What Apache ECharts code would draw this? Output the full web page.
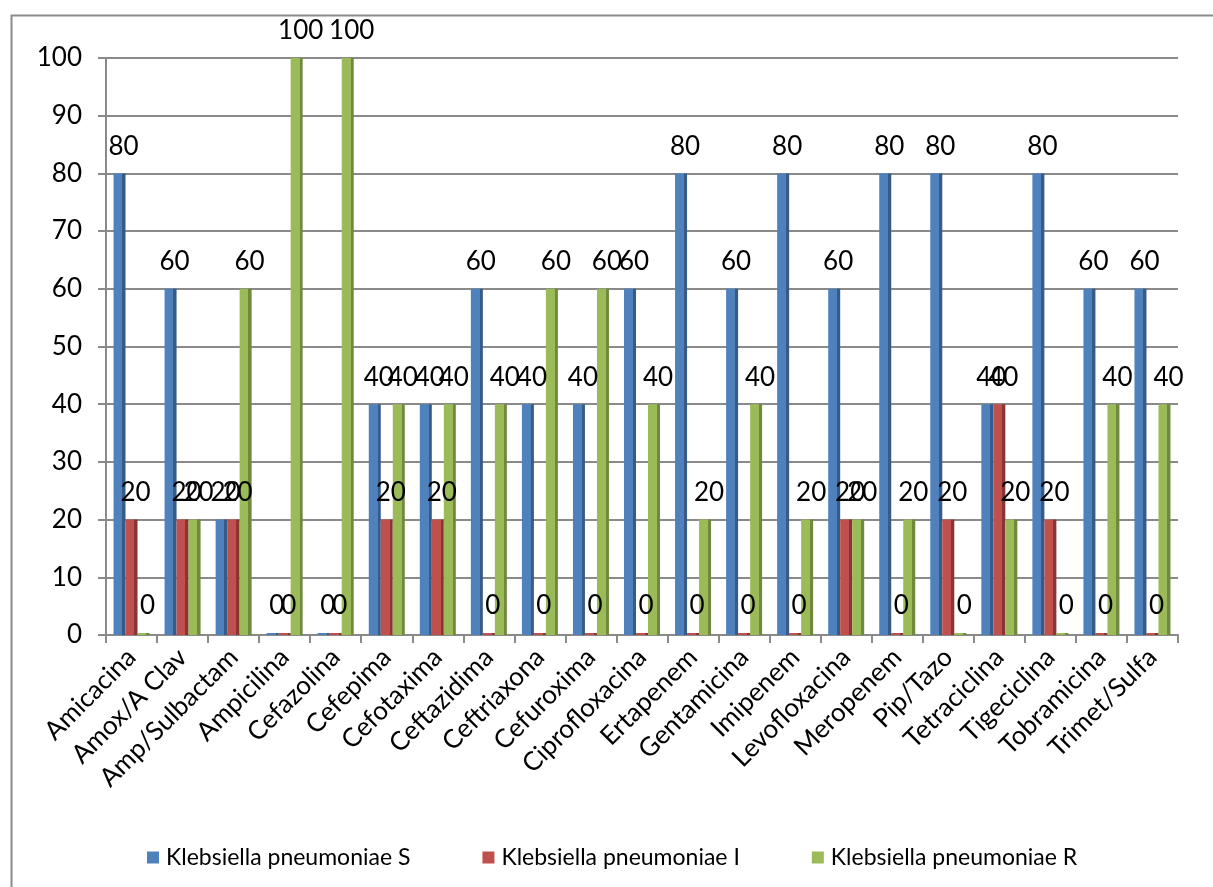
<!DOCTYPE html>
<html>
<head>
<meta charset="utf-8">
<title>Klebsiella pneumoniae</title>
<script src="https://cdn.jsdelivr.net/npm/echarts@6/dist/echarts.min.js"></script>
<style>
  html, body { margin: 0; padding: 0; background: #ffffff; }
  #chart { width: 1213px; height: 887px; }
</style>
</head>
<body>
<div id="chart"></div>
<script>
// Antibiotics tested
const categories = [
  'Amicacina', 'Amox/A Clav', 'Amp/Sulbactam', 'Ampicilina', 'Cefazolina',
  'Cefepima', 'Cefotaxima', 'Ceftazidima', 'Ceftriaxona', 'Cefuroxima',
  'Ciprofloxacina', 'Ertapenem', 'Gentamicina', 'Imipenem', 'Levofloxacina',
  'Meropenem', 'Pip/Tazo', 'Tetraciclina', 'Tigeciclina', 'Tobramicina', 'Trimet/Sulfa'
];

// Percentages: sensitive / intermediate / resistant
const sensitive    = [80, 60, 20, 0, 0, 40, 40, 60, 40, 40, 60, 80, 60, 80, 60, 80, 80, 40, 80, 60, 60];
const intermediate = [20, 20, 20, 0, 0, 20, 20, 0, 0, 0, 0, 0, 0, 0, 20, 0, 20, 40, 20, 0, 0];
const resistant    = [0, 20, 60, 100, 100, 40, 40, 40, 60, 60, 40, 20, 40, 20, 20, 20, 0, 20, 0, 40, 40];

const seriesNames = ['Klebsiella pneumoniae S', 'Klebsiella pneumoniae I', 'Klebsiella pneumoniae R'];

// Y axis tick values
const yTicks = [0, 10, 20, 30, 40, 50, 60, 70, 80, 90, 100];

const FONT = 'Lato, "Open Sans", sans-serif';
const GRID_GRAY = '#8a8a8a';

// Front face colour plus a darker strip on the right for the column side
function shaded(face, side) {
  return new echarts.graphic.LinearGradient(0, 0, 1, 0, [
    { offset: 0, color: face },
    { offset: 0.74, color: face },
    { offset: 0.74, color: side },
    { offset: 1, color: side }
  ]);
}

const palette = [
  { face: '#4f81bd', side: '#375b88' },
  { face: '#c0504d', side: '#8a3533' },
  { face: '#9bbb59', side: '#6f893d' }
];

function barSeries(i, values) {
  const fill = shaded(palette[i].face, palette[i].side);
  return {
    name: seriesNames[i],
    type: 'bar',
    // the shaded column fill goes on each bar; the series keeps the flat colour for the legend
    data: values.map(v => ({ value: v, itemStyle: { color: fill } })),
    barWidth: 12,
    barGap: '0%',
    barMinHeight: 2,
    itemStyle: { color: palette[i].face },
    label: {
      show: true,
      position: 'top',
      distance: 14,
      offset: [4, 0],
      color: '#000',
      fontFamily: FONT,
      fontSize: 26
    }
  };
}

const chart = echarts.init(document.getElementById('chart'), null, { renderer: 'canvas' });

chart.setOption({
  animation: false,
  backgroundColor: '#ffffff',
  graphic: [{
    type: 'rect',
    left: 9, top: 13,
    shape: { width: 1230, height: 900 },
    style: { fill: 'none', stroke: '#8c8c8c', lineWidth: 2 },
    silent: true
  }],
  grid: { left: 106, right: 35, top: 58, bottom: 252 },
  legend: {
    top: 841,
    left: 142,
    itemWidth: 12,
    itemHeight: 12,
    itemGap: 72,
    icon: 'rect',
    textStyle: { fontFamily: FONT, fontSize: 23, color: '#000', padding: [0, 0, 0, 2] },
    data: seriesNames
  },
  xAxis: {
    type: 'category',
    data: categories,
    axisLine: { lineStyle: { color: GRID_GRAY, width: 2 } },
    axisTick: { show: true, length: 8, lineStyle: { color: GRID_GRAY, width: 2 } },
    axisLabel: {
      rotate: 45,
      interval: 0,
      margin: 18,
      fontFamily: FONT,
      fontSize: 26,
      color: '#000'
    }
  },
  yAxis: {
    type: 'value',
    min: yTicks[0],
    max: yTicks[yTicks.length - 1],
    interval: yTicks[1] - yTicks[0],
    axisLine: { show: true, lineStyle: { color: GRID_GRAY, width: 2 } },
    axisTick: { show: true, length: 8, lineStyle: { color: GRID_GRAY, width: 2 } },
    splitLine: { lineStyle: { color: GRID_GRAY, width: 2 } },
    axisLabel: {
      margin: 24,
      fontFamily: FONT,
      fontSize: 26,
      color: '#000'
    }
  },
  series: [
    barSeries(0, sensitive),
    barSeries(1, intermediate),
    barSeries(2, resistant)
  ]
});
</script>
</body>
</html>
